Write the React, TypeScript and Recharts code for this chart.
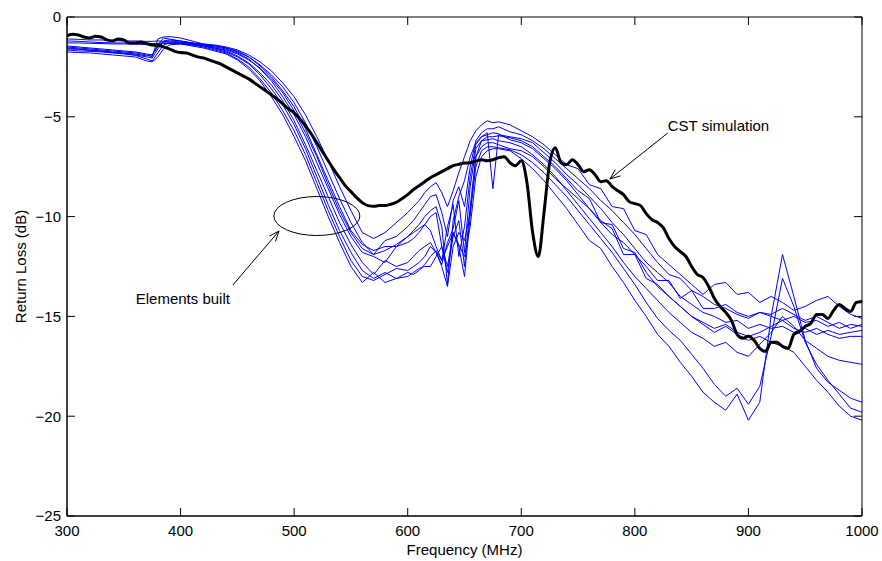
import { LineChart, Line, XAxis, YAxis, ReferenceLine, ReferenceDot, ReferenceArea } from 'recharts'

// CST simulation, sampled every 5 MHz
const freqSim = [
  300, 305, 310, 315, 320, 325, 330, 335, 340, 345,
  350, 355, 360, 365, 370, 375, 380, 385, 390, 395,
  400, 405, 410, 415, 420, 425, 430, 435, 440, 445,
  450, 455, 460, 465, 470, 475, 480, 485, 490, 495,
  500, 505, 510, 515, 520, 525, 530, 535, 540, 545,
  550, 555, 560, 565, 570, 575, 580, 585, 590, 595,
  600, 605, 610, 615, 620, 625, 630, 635, 640, 645,
  650, 655, 660, 665, 670, 675, 680, 685, 690, 695,
  700, 705, 710, 715, 720, 725, 730, 735, 740, 745,
  750, 755, 760, 765, 770, 775, 780, 785, 790, 795,
  800, 805, 810, 815, 820, 825, 830, 835, 840, 845,
  850, 855, 860, 865, 870, 875, 880, 885, 890, 895,
  900, 905, 910, 915, 920, 925, 930, 935, 940, 945,
  950, 955, 960, 965, 970, 975, 980, 985, 990, 995,
  1000,
]
const cstSim = [
  -0.95, -0.87, -0.9, -1.0, -1.05, -0.97, -1.0, -1.15, -1.2, -1.1,
  -1.15, -1.3, -1.3, -1.25, -1.33, -1.4, -1.42, -1.5, -1.6, -1.72,
  -1.78, -1.8, -1.9, -2.0, -2.05, -2.15, -2.25, -2.35, -2.5, -2.65,
  -2.8, -2.95, -3.1, -3.3, -3.5, -3.7, -3.9, -4.1, -4.35, -4.6,
  -4.8, -5.1, -5.45, -5.85, -6.3, -6.75, -7.2, -7.65, -8.05, -8.45,
  -8.75, -9.05, -9.3, -9.45, -9.48, -9.45, -9.45, -9.38, -9.28, -9.1,
  -8.9, -8.65, -8.45, -8.25, -8.05, -7.9, -7.75, -7.6, -7.45, -7.38,
  -7.32, -7.3, -7.22, -7.15, -7.2, -7.15, -7.05, -7.0, -7.3, -7.45,
  -7.2, -8.3, -10.8, -12.0, -9.8, -7.3, -6.55, -7.3, -7.4, -7.15,
  -7.4, -7.75, -7.65, -7.9, -8.25, -8.2, -8.5, -8.7, -8.9, -9.25,
  -9.35, -9.45, -9.85, -10.15, -10.3, -10.55, -11.1, -11.5, -11.75, -12.0,
  -12.5, -12.9, -13.05, -13.5, -14.1, -14.5, -14.8, -15.2, -15.9, -16.1,
  -16.0, -16.2, -16.6, -16.75, -16.3, -16.3, -16.5, -16.6, -15.9, -15.75,
  -15.5, -15.35, -14.9, -14.9, -15.1, -14.7, -14.4, -14.6, -14.75, -14.3,
  -14.25,
]

// measured elements
const freqMeas = [
  300, 310, 320, 330, 340, 350, 360, 370,
  375, 380, 385, 390,
  400, 410, 420, 430, 440, 450, 460, 470, 480, 490,
  500, 510, 520, 530, 540, 550, 560, 570, 580, 590,
  600, 605, 610, 615, 620, 625, 630, 635, 640, 645, 650, 655, 660, 665, 670, 675, 680,
  690, 700, 710, 720, 730, 740, 750, 760, 770, 780, 790,
  800, 810, 820, 830, 840, 850, 860, 870, 880, 890,
  900, 910, 920, 930, 940, 950, 960, 970, 980, 990, 1000,
]
const meas1 = [
  -1.1, -1.12, -1.15, -1.15, -1.18, -1.2, -1.2, -1.22,
  -1.22, -1.2, -1.22, -1.25,
  -1.28, -1.3, -1.35, -1.4, -1.5, -1.65, -1.9, -2.25, -2.7, -3.3,
  -4.0, -4.9, -6.0, -7.2, -8.5, -9.7, -10.8, -11.1, -10.8, -10.3,
  -9.8, -9.5, -9.2, -8.8, -8.5, -8.3, -8.8, -9.5, -8.7, -7.8, -7.0, -6.2, -5.7, -5.4, -5.2, -5.3, -5.25,
  -5.4, -5.7, -6.0, -6.4, -6.9, -7.4, -7.6, -8.4, -8.6, -9.5, -9.6,
  -10.7, -10.9, -11.9, -12.4, -12.9, -13.4, -13.9, -13.4, -13.3, -13.9,
  -13.8, -14.3, -14.0, -14.3, -14.7, -14.5, -14.2, -14.0, -14.5, -14.9, -15.1,
]
const meas2 = [
  -1.2, -1.22, -1.25, -1.28, -1.3, -1.3, -1.32, -1.33,
  -1.33, -1.32, -1.3, -1.3,
  -1.32, -1.35, -1.4, -1.45, -1.55, -1.75, -2.0, -2.4, -2.9, -3.5,
  -4.3, -5.3, -6.5, -7.8, -9.1, -10.3, -11.3, -11.9, -11.2, -11.0,
  -10.5, -10.2, -9.8, -9.4, -9.0, -8.9, -9.8, -11.0, -9.2, -8.5, -9.5, -7.5, -6.2, -5.8, -5.6, -5.6, -5.5,
  -5.75, -5.9, -6.2, -6.6, -7.1, -7.6, -8.1, -8.6, -9.2, -9.7, -10.3,
  -10.9, -11.6, -12.3, -12.9, -13.1, -13.7, -14.0, -14.4, -14.6, -14.9,
  -15.1, -14.8, -15.0, -15.2, -15.0, -15.3, -15.2, -15.5, -15.3, -15.6, -15.4,
]
const meas3 = [
  -1.3, -1.3, -1.32, -1.33, -1.35, -1.35, -1.36, -1.38,
  -1.36, -1.33, -1.32, -1.33,
  -1.35, -1.4, -1.45, -1.55, -1.65, -1.85, -2.15, -2.55, -3.1, -3.8,
  -4.7, -5.8, -7.0, -8.4, -9.7, -10.8, -11.6, -11.9, -11.7, -11.4,
  -11.0, -10.7, -10.4, -10.0, -9.7, -9.5, -10.5, -13.4, -10.2, -9.0, -8.2, -7.0, -6.3, -6.0, -5.8, -8.6, -5.9,
  -6.0, -6.1, -6.3, -6.8, -7.3, -7.9, -8.4, -9.0, -9.6, -10.3, -10.9,
  -11.6, -12.3, -12.8, -13.3, -14.0, -14.4, -14.8, -15.0, -15.3, -15.2,
  -15.6, -15.4, -15.6, -15.5, -15.8, -15.6, -15.9, -15.7, -15.9, -15.8, -15.7,
]
const meas4 = [
  -1.45, -1.5, -1.55, -1.6, -1.65, -1.7, -1.75, -1.85,
  -1.9, -1.4, -1.05, -1.1,
  -1.2, -1.3, -1.4, -1.5, -1.6, -1.8, -2.1, -2.6, -3.2, -4.0,
  -4.9, -6.0, -7.3, -8.6, -9.9, -11.0, -11.8, -12.0, -12.3, -11.5,
  -11.3, -11.1, -10.8, -10.4, -10.0, -9.8, -11.5, -12.5, -10.8, -11.5, -13.0, -10.0, -7.0, -6.2, -6.0, -6.0, -5.95,
  -6.05, -6.2, -6.5, -7.0, -7.5, -8.1, -8.7, -9.1, -10.3, -10.4, -11.6,
  -11.8, -12.8, -13.5, -14.0, -14.5, -15.0, -15.3, -15.6, -15.4, -15.8,
  -16.0, -15.8, -15.5, -15.2, -15.6, -15.8, -15.6, -15.9, -16.1, -16.0, -16.0,
]
const meas5 = [
  -1.5, -1.55, -1.6, -1.65, -1.7, -1.75, -1.8, -1.9,
  -2.0, -1.1, -1.0, -0.98,
  -1.05, -1.2, -1.35, -1.45, -1.55, -1.7, -2.0, -2.45, -3.0, -3.7,
  -4.5, -5.6, -6.9, -8.2, -9.5, -10.7, -11.4, -11.7, -11.5, -11.5,
  -11.0, -10.8, -10.6, -10.4, -10.7, -11.5, -12.2, -10.5, -9.4, -12.0, -10.5, -8.0, -6.4, -6.0, -5.9, -5.8, -5.85,
  -6.15, -6.3, -6.6, -7.1, -7.6, -8.2, -8.9, -9.6, -10.3, -10.9, -11.3,
  -11.9, -12.5, -13.2, -13.2, -14.1, -13.7, -14.6, -14.6, -14.4, -14.8,
  -15.0, -14.8, -14.9, -14.6, -14.9, -15.2, -15.0, -15.3, -15.6, -15.4, -15.5,
]
const meas6 = [
  -1.55, -1.6, -1.65, -1.7, -1.75, -1.8, -1.85, -1.95,
  -1.9, -1.5, -1.2, -1.15,
  -1.2, -1.3, -1.4, -1.55, -1.7, -1.95, -2.3, -2.8, -3.4, -4.2,
  -5.2, -6.4, -7.7, -9.0, -10.3, -11.4, -12.3, -12.9, -12.2, -12.5,
  -12.3, -12.0, -11.7, -11.5, -11.3, -11.8, -12.4, -11.3, -10.6, -9.2, -11.8, -8.5, -6.6, -6.2, -6.15, -6.1, -6.2,
  -6.3, -6.5, -6.9, -7.4, -8.0, -8.7, -9.4, -10.1, -10.8, -11.5, -12.3,
  -13.0, -13.6, -14.2, -14.8, -15.3, -15.8, -16.1, -16.5, -16.3, -16.8,
  -17.0, -16.4, -15.8, -15.0, -15.5, -16.2, -16.6, -17.0, -17.2, -17.3, -17.4,
]
const meas7 = [
  -1.6, -1.62, -1.68, -1.72, -1.78, -1.82, -1.9, -2.0,
  -2.05, -1.6, -1.25, -1.2,
  -1.25, -1.35, -1.45, -1.6, -1.75, -2.0, -2.35, -2.9, -3.6, -4.4,
  -5.4, -6.6, -8.0, -9.4, -10.7, -11.8, -12.7, -13.1, -12.8, -13.1,
  -13.0, -12.8, -12.6, -12.5, -12.5, -12.0, -11.5, -12.8, -11.0, -10.2, -12.5, -9.5, -7.0, -6.5, -6.3, -6.3, -6.4,
  -6.6, -6.7, -7.0, -7.5, -8.1, -8.6, -9.1, -9.6, -10.2, -10.6, -11.9,
  -11.9, -13.1, -13.4, -14.0, -14.5, -15.0, -15.4, -15.8, -15.5, -15.9,
  -16.2, -16.0, -16.3, -16.5, -16.8, -17.5, -18.2, -18.8, -19.5, -20.0, -20.2,
]
const meas8 = [
  -1.65, -1.7, -1.72, -1.75, -1.8, -1.85, -1.92, -2.1,
  -2.2, -1.8, -1.4, -1.3,
  -1.3, -1.4, -1.5, -1.65, -1.8, -2.1, -2.5, -3.1, -3.8, -4.7,
  -5.7, -6.9, -8.3, -9.7, -11.0, -12.2, -13.0, -13.2, -12.9, -12.6,
  -12.7, -12.5, -12.3, -12.0, -11.5, -11.8, -12.5, -13.5, -11.5, -10.8, -11.2, -9.8, -7.5, -6.7, -6.5, -6.5, -6.55,
  -6.65, -6.9, -7.3, -7.8, -8.4, -9.0, -9.7, -10.4, -11.1, -11.8, -12.6,
  -13.4, -14.3, -15.1, -15.7, -16.2, -16.9, -17.6, -18.4, -19.0, -18.6,
  -19.4, -18.5, -16.0, -13.1, -14.5, -16.3, -17.4, -18.2, -18.9, -19.6, -19.8,
]
const meas9 = [
  -1.75, -1.78, -1.8, -1.85, -1.9, -1.95, -2.0, -2.2,
  -2.25, -2.0, -1.6, -1.4,
  -1.35, -1.45, -1.55, -1.7, -1.85, -2.15, -2.6, -3.2, -4.0, -4.9,
  -6.0, -7.2, -8.6, -10.0, -11.3, -12.5, -13.3, -12.8, -13.3, -13.1,
  -12.8, -12.9, -12.7, -12.4, -12.0, -11.7, -12.2, -11.5, -10.8, -11.4, -12.0, -10.5, -8.0, -7.0, -6.7, -6.6, -6.6,
  -6.7, -7.1, -7.6, -8.2, -8.9, -9.6, -10.4, -11.2, -11.6, -12.5, -13.3,
  -14.2, -15.0, -15.9, -16.5, -17.3, -18.0, -18.8, -19.3, -19.7, -18.9,
  -20.2, -19.3, -15.0, -11.9, -14.0, -16.2, -17.6, -18.3, -18.7, -19.1, -19.3,
]
const measured = [meas1, meas2, meas3, meas4, meas5, meas6, meas7, meas8, meas9]

const xTicks = [300, 400, 500, 600, 700, 800, 900, 1000]
const yTicks = [-25, -20, -15, -10, -5, 0]

const font = '"Liberation Sans", Arial, Helvetica, sans-serif'

const simData = freqSim.map((f, i) => ({ f, sim: cstSim[i] }))
const measData = freqMeas.map((f, i) => {
  const row: Record<string, number> = { f }
  measured.forEach((s, k) => { row['m' + k] = s[i] })
  return row
})

function Arrow(p: any) {
  const { x1, y1, x2, y2 } = p
  const a = Math.atan2(y2 - y1, x2 - x1)
  const len = 11
  const spread = 0.38
  const h1x = x2 - len * Math.cos(a - spread)
  const h1y = y2 - len * Math.sin(a - spread)
  const h2x = x2 - len * Math.cos(a + spread)
  const h2y = y2 - len * Math.sin(a + spread)
  return (
    <g stroke="#000" strokeWidth={1} fill="none">
      <line x1={x1} y1={y1} x2={x2} y2={y2} />
      <polyline points={`${h1x},${h1y} ${x2},${y2} ${h2x},${h2y}`} />
    </g>
  )
}

const minus = (v: number) => String(v).replace('-', '\u2212')

export default function App() {
  return (
    <div style={{ position: 'absolute', left: 0, top: 0, width: 882, height: 561, background: '#fff' }}>
      <LineChart width={882} height={561} margin={{ top: 17, right: 20, left: 0, bottom: 0 }}>
        <XAxis
          dataKey="f"
          type="number"
          domain={[300, 1000]}
          ticks={xTicks}
          allowDataOverflow
          height={45}
          tickLine={false}
          tickSize={0}
          tickMargin={9}
          axisLine={{ stroke: '#000' }}
          tick={{ fill: '#000', fontSize: 15, fontFamily: font }}
          label={{
            content: ({ viewBox }: any) => (
              <text x={viewBox.x + viewBox.width / 2} y={549} textAnchor="middle" dominantBaseline="central"
                fontSize={15} fontFamily={font} fill="#000">Frequency (MHz)</text>
            ),
          }}
        />
        <YAxis
          type="number"
          domain={[-25, 0]}
          ticks={yTicks}
          allowDataOverflow
          width={67}
          tickLine={false}
          tickSize={0}
          tickMargin={6}
          tickFormatter={minus}
          axisLine={{ stroke: '#000' }}
          tick={{ fill: '#000', fontSize: 15, fontFamily: font }}
          label={{
            content: ({ viewBox }: any) => {
              const cx = 20
              const cy = viewBox.y + viewBox.height / 2
              return (
                <text x={cx} y={cy} transform={`rotate(-90 ${cx} ${cy})`} textAnchor="middle" dominantBaseline="central"
                  fontSize={15} fontFamily={font} fill="#000">Return Loss (dB)</text>
              )
            },
          }}
        />
        <ReferenceArea x1={300} x2={1000} y1={-25} y2={0} fill="none" stroke="#000" strokeWidth={1} ifOverflow="visible" />
        {xTicks.map((t) => (
          <ReferenceLine key={'xb' + t} segment={[{ x: t, y: -25 }, { x: t, y: -24.6 }]} stroke="#000" ifOverflow="visible" />
        ))}
        {xTicks.map((t) => (
          <ReferenceLine key={'xt' + t} segment={[{ x: t, y: 0 }, { x: t, y: -0.4 }]} stroke="#000" ifOverflow="visible" />
        ))}
        {yTicks.map((t) => (
          <ReferenceLine key={'yl' + t} segment={[{ x: 300, y: t }, { x: 307, y: t }]} stroke="#000" ifOverflow="visible" />
        ))}
        {yTicks.map((t) => (
          <ReferenceLine key={'yr' + t} segment={[{ x: 1000, y: t }, { x: 993, y: t }]} stroke="#000" ifOverflow="visible" />
        ))}
        {measured.map((_, k) => (
          <Line key={'m' + k} data={measData} dataKey={'m' + k} type="linear" stroke="#0000ff" strokeWidth={1}
            dot={false} isAnimationActive={false} />
        ))}
        <Line data={simData} dataKey="sim" type="monotone" stroke="#000" strokeWidth={3} dot={false} isAnimationActive={false} />
        <ReferenceDot x={520} y={-9.97} ifOverflow="visible"
          shape={(p: any) => <ellipse cx={p.cx} cy={p.cy} rx={43} ry={19.5} fill="none" stroke="#000" strokeWidth={1} />} />
        <ReferenceLine segment={[{ x: 446, y: -13.43 }, { x: 486.7, y: -10.72 }]} ifOverflow="visible" shape={Arrow} />
        <ReferenceLine segment={[{ x: 829, y: -5.81 }, { x: 778, y: -8.12 }]} ifOverflow="visible" shape={Arrow} />
        <ReferenceDot x={402} y={-14.08} ifOverflow="visible"
          shape={(p: any) => (
            <text x={p.cx} y={p.cy} textAnchor="middle" dominantBaseline="central" fontSize={15} fontFamily={font} fill="#000">
              Elements built
            </text>
          )} />
        <ReferenceDot x={829} y={-5.46} ifOverflow="visible"
          shape={(p: any) => (
            <text x={p.cx} y={p.cy} textAnchor="start" dominantBaseline="central" fontSize={15} fontFamily={font} fill="#000">
              CST simulation
            </text>
          )} />
      </LineChart>
    </div>
  )
}
